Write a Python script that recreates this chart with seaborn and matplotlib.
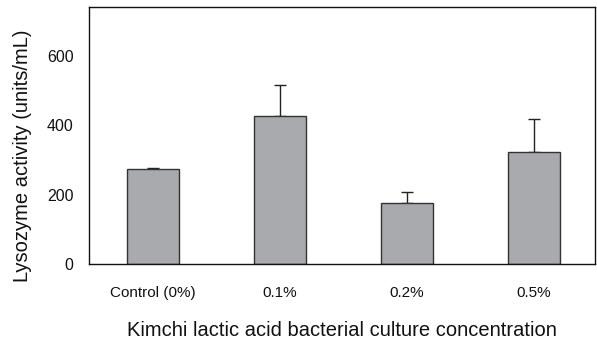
import matplotlib
matplotlib.use("Agg")
import matplotlib.pyplot as plt
import seaborn as sns
import pandas as pd

categories = ["Control (0%)", "0.1%", "0.2%", "0.5%"]
activity = [274, 425, 175, 323]
error_up = [2, 90, 31, 95]
yticks = [0, 200, 400, 600]

sns.set_theme(style="white")
plt.rcParams["font.family"] = ["Liberation Sans", "DejaVu Sans"]

df = pd.DataFrame({"cat": categories, "val": activity})

fig = plt.figure(figsize=(5.97, 3.48), dpi=100)
ax = fig.add_axes([89/597, 1 - 264/348, (595 - 89)/597, (264 - 7)/348])

sns.barplot(data=df, x="cat", y="val", ax=ax, color="#a9aaad",
            saturation=1, width=0.405, edgecolor="#333333", linewidth=1.0,
            errorbar=None, zorder=2)
xs = list(range(len(categories)))
ax.errorbar(xs, activity, yerr=[[0]*len(error_up), error_up], fmt="none",
            ecolor="#222222", elinewidth=1.0, capsize=4, capthick=1.0, zorder=1)

ax.set_xlim(-0.505, 3.48)
ax.set_ylim(0, 740)
ax.set_yticks(yticks)
ax.tick_params(axis="x", length=0, labelsize=11, pad=16, colors="#111111")
ax.tick_params(axis="y", direction="in", length=3.5, width=1.0,
               labelsize=11.5, pad=11, colors="#111111")
for s in ax.spines.values():
    s.set_visible(True)
    s.set_color("#111111")
    s.set_linewidth(1.0)

ax.set_xlabel("Kimchi lactic acid bacterial culture concentration", fontsize=14.5, labelpad=15, color="#111111")
ax.set_ylabel("Lysozyme activity (units/mL)", fontsize=14.5, color="#111111")
ax.yaxis.set_label_coords(-0.112, 0.42)

fig.savefig("out.png", dpi=100)
